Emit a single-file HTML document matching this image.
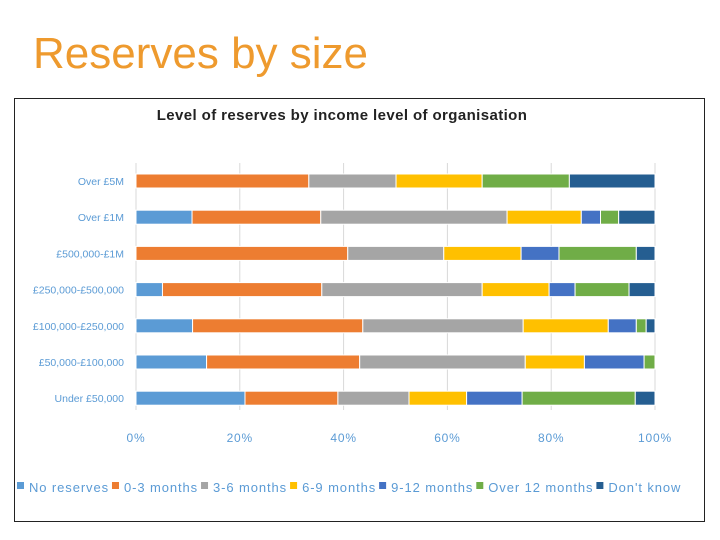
<!DOCTYPE html>
<html><head><meta charset="utf-8"><style>
body{margin:0;background:#fff;width:720px;height:540px;overflow:hidden;font-family:"Liberation Sans",sans-serif}
#h{position:absolute;left:33px;top:29px;font-size:44px;color:#EE9A2E;margin:0;font-weight:normal}
#frame{position:absolute;left:14px;top:98px;width:691px;height:424px;border:1px solid #222;box-sizing:border-box}
svg{position:absolute;left:0;top:0}
</style></head><body>
<h1 id="h">Reserves by size</h1>
<div id="frame"></div>
<svg id="c" width="720" height="540"></svg>
<script>
const categories=["Over £5M","Over £1M","£500,000-£1M","£250,000-£500,000","£100,000-£250,000","£50,000-£100,000","Under £50,000"];
const seriesNames=["No reserves","0-3 months","3-6 months","6-9 months","9-12 months","Over 12 months","Don't know"];
const colors=["#5B9BD5","#ED7D31","#A5A5A5","#FFC000","#4472C4","#70AD47","#255E91"];
const noReserves=[0,10.8,0,5.1,10.9,13.6,21.0];
const m0to3=[33.3,24.8,40.8,30.7,32.8,29.5,17.9];
const m3to6=[16.8,35.9,18.5,30.9,30.9,31.9,13.7];
const m6to9=[16.6,14.3,14.9,12.9,16.4,11.4,11.1];
const m9to12=[0,3.7,7.3,5.0,5.4,11.5,10.7];
const over12=[16.8,3.5,14.9,10.4,1.9,2.1,21.8];
const dontKnow=[16.5,7.0,3.6,5.0,1.7,0,3.8];
const tickValues=[0,20,40,60,80,100];
const tickLabels=["0%","20%","40%","60%","80%","100%"];
const series=[noReserves,m0to3,m3to6,m6to9,m9to12,over12,dontKnow];
const NS="http://www.w3.org/2000/svg",svg=document.getElementById('c');
const x0=136,x1=655,yTop=163,yBot=410;
const xs=v=>x0+(x1-x0)*v/100;
const ys=i=>181+i*36.2;
function mk(t,a,txt){const e=document.createElementNS(NS,t);for(const k in a)e.setAttribute(k,a[k]);if(txt!=null)e.textContent=txt;svg.appendChild(e);return e;}
const ti=mk('text',{x:342,y:120,'text-anchor':'middle','font-size':15,'font-weight':'bold',fill:'#222','letter-spacing':0.4},'Level of reserves by income level of organisation');


tickValues.forEach((v,i)=>{
 const g=mk('line',{x1:xs(v),x2:xs(v),y1:yTop,y2:yBot,stroke:'#d9d9d9','stroke-width':1});
 
 
 const t=mk('text',{x:xs(v),y:442,'text-anchor':'middle','font-size':12,fill:'#5B9BD5','letter-spacing':0.8},tickLabels[i]);
 
 
});
categories.forEach((c,i)=>{
 const t=mk('text',{x:124,y:ys(i)+4,'text-anchor':'end','font-size':10.5,fill:'#5B9BD5'},c);
 
 
 let acc=0;
 series.forEach((s,j)=>{
  const v=s[i];if(v<=0)return;
  const r=mk('rect',{x:xs(acc),y:ys(i)-7,width:xs(acc+v)-xs(acc),height:14,fill:colors[j],stroke:'#fff','stroke-width':1});
  
  
  acc+=v;
 });
});
let lx=17;
seriesNames.forEach((n,j)=>{
 const r=mk('rect',{x:lx,y:482,width:7,height:7,fill:colors[j]});
 
 
 const t=mk('text',{x:lx+12,y:492,'font-size':13,fill:'#5B9BD5','letter-spacing':0.9},n);
 
 
 lx+=12+t.getComputedTextLength()+3;
});
</script>
</body></html>
